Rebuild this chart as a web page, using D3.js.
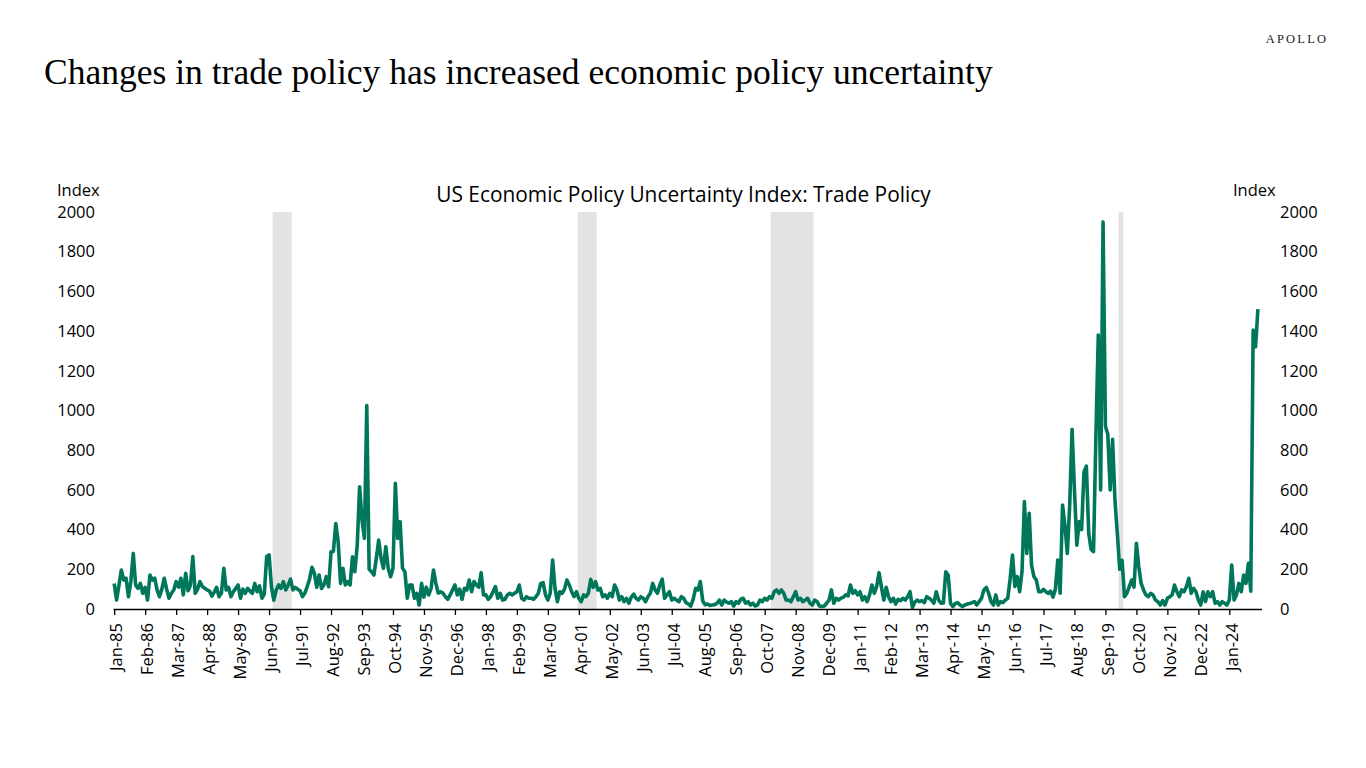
<!DOCTYPE html>
<html><head><meta charset="utf-8">
<script src="https://cdn.jsdelivr.net/npm/d3@7"></script>
<style>
html,body{margin:0;padding:0;background:#fff;}
svg{display:block;}
</style></head><body>
<svg id="chart" width="1366" height="768"></svg>
<script>
// ---------------- DATA ----------------
const startYear = 1985;            // first observation: Jan-1985, monthly
const values = [
  129, 45, 120, 196, 146, 155, 62, 140, 280, 120, 104, 129,      // 1985
  79, 109, 45, 171, 146, 155, 96, 62, 100, 155, 100, 54,          // 1986
  79, 96, 138, 110, 155, 71, 180, 92, 120, 264, 79, 100,          // 1987
  138, 113, 105, 96, 90, 65, 85, 109, 62, 79, 205, 96,            // 1988
  109, 62, 87, 104, 121, 54, 100, 79, 104, 90, 79, 129,           // 1989
  87, 116, 54, 76, 264, 272, 113, 45, 96, 121, 104, 138,          // 1990
  96, 120, 151, 96, 109, 100, 92, 62, 79, 113, 150, 210,          // 1991
  180, 110, 171, 104, 121, 163, 112, 288, 290, 431, 339, 129,     // 1992
  205, 121, 138, 121, 263, 188, 322, 616, 448, 356, 1025, 200,    // 1993
  188, 171, 255, 347, 255, 205, 314, 205, 163, 205, 633, 356,     // 1994
  440, 205, 188, 54, 121, 121, 54, 79, 20, 129, 60, 110,          // 1995
  71, 104, 196, 129, 80, 87, 79, 62, 49, 71, 96, 121,             // 1996
  71, 100, 49, 104, 96, 146, 87, 138, 121, 110, 183, 71,          // 1997
  71, 49, 62, 87, 113, 54, 79, 45, 49, 71, 79, 71,                // 1998
  79, 87, 121, 54, 45, 62, 54, 54, 49, 62, 79, 129,               // 1999
  133, 71, 45, 80, 247, 104, 37, 87, 79, 100, 146, 121,           // 2000
  87, 62, 87, 54, 37, 71, 62, 79, 150, 109, 138, 96,              // 2001
  104, 62, 71, 54, 79, 62, 121, 96, 45, 62, 37, 54,               // 2002
  29, 60, 75, 54, 45, 62, 54, 37, 62, 79, 129, 96,                // 2003
  79, 121, 150, 54, 71, 87, 45, 54, 45, 37, 62, 54,               // 2004
  32, 25, 15, 50, 104, 96, 138, 40, 22, 25, 18, 20,               // 2005
  22, 29, 45, 20, 45, 35, 29, 37, 15, 37, 29, 49,                 // 2006
  54, 29, 37, 20, 29, 15, 20, 45, 37, 54, 45, 62,                 // 2007
  54, 87, 96, 79, 96, 79, 45, 45, 37, 62, 87, 45,                 // 2008
  54, 37, 45, 54, 29, 20, 45, 37, 15, 12, 15, 29,                 // 2009
  45, 96, 29, 54, 45, 55, 59, 71, 66, 121, 79, 92,                // 2010
  71, 87, 45, 62, 37, 71, 121, 79, 113, 183, 110, 45,             // 2011
  109, 62, 37, 54, 25, 49, 42, 54, 45, 62, 87, 8,                 // 2012
  35, 45, 37, 42, 32, 62, 54, 45, 29, 87, 45, 29,                 // 2013
  30, 188, 171, 28, 12, 28, 32, 20, 12, 20, 25, 28,               // 2014
  32, 37, 20, 37, 54, 96, 109, 79, 37, 20, 71, 20,                // 2015
  37, 32, 45, 54, 150, 272, 113, 163, 87, 190, 541, 280,          // 2016
  482, 220, 163, 146, 87, 87, 99, 87, 79, 90, 60, 100,            // 2017
  247, 80, 524, 420, 280, 520, 905, 600, 322, 440, 400, 690,      // 2018
  720, 381, 300, 289, 870, 1380, 600, 1950, 920, 880, 600, 855,   // 2019
  549, 380, 200, 245, 62, 79, 113, 146, 110, 331, 213, 129,       // 2020
  96, 71, 62, 79, 71, 45, 37, 20, 42, 20, 54, 62,                 // 2021
  71, 121, 87, 62, 96, 87, 113, 155, 79, 104, 87, 45,             // 2022
  20, 87, 37, 87, 62, 87, 29, 37, 20, 37, 29, 20,                 // 2023
  45, 222, 45, 71, 129, 87, 171, 129, 230, 90, 1405, 1321,        // 2024
  1511                                                            // 2025
];
const recessionStart = ["1990-08", "2001-04", "2008-01", "2020-03"];
const recessionEnd   = ["1991-03", "2001-11", "2009-06", "2020-04"];
const yTicks = [0, 200, 400, 600, 800, 1000, 1200, 1400, 1600, 1800, 2000];
const xTickStep = 13;   // one label every 13 months
const titleText = "Changes in trade policy has increased economic policy uncertainty";
const chartTitle = "US Economic Policy Uncertainty Index: Trade Policy";
const axisUnit = "Index";

// ---------------- DRAW ----------------
const svg = d3.select("#chart");
const lineColor = "#00775a";
const labelFont = "'Open Sans', 'Noto Sans', sans-serif";

const monthIndex = s => { const [yy, mm] = s.split("-").map(Number); return (yy - startYear) * 12 + (mm - 1); };
const dateOf = i => new Date(startYear, i, 1);
const fmt = d3.timeFormat("%b-%y");

const x = d3.scaleLinear().domain([-0.5, values.length + 0.5]).range([113, 1261.5]);
const y = d3.scaleLinear().domain([0, 2000]).range([609, 212]);

// recession shading
svg.append("g").selectAll("rect")
  .data(recessionStart.map((s, i) => [monthIndex(s), monthIndex(recessionEnd[i])]))
  .join("rect")
  .attr("x", d => x(d[0] - 0.5))
  .attr("width", d => x(d[1] + 0.5) - x(d[0] - 0.5))
  .attr("y", y(2000))
  .attr("height", y(0) - y(2000))
  .attr("fill", "#e3e3e3");

// line
svg.append("path")
  .datum(values)
  .attr("fill", "none")
  .attr("stroke", lineColor)
  .attr("stroke-width", 3.6)
  .attr("stroke-linejoin", "round")
  .attr("d", d3.line().x((d, i) => x(i)).y(d => y(d)));

// x axis
const xTickVals = d3.range(0, values.length, xTickStep);
const xAxis = svg.append("g").attr("transform", `translate(0,${y(0)})`)
  .call(d3.axisBottom(x).tickValues(xTickVals).tickSize(6).tickSizeOuter(0).tickFormat(""));
xAxis.select(".domain").attr("stroke", "#000").attr("stroke-width", 1.3);
xAxis.selectAll(".tick line").attr("stroke", "#000").attr("stroke-width", 1.3);

svg.append("g").selectAll("text")
  .data(xTickVals)
  .join("text")
  .attr("transform", d => `translate(${x(d)},${y(0) + 14}) rotate(-90)`)
  .attr("text-anchor", "end")
  .attr("dy", "0.5em")
  .attr("font-family", labelFont)
  .attr("font-size", 16.5)
  .attr("fill", "#000")
  .text(d => fmt(dateOf(d)));

// y labels left and right
svg.append("g").selectAll("text")
  .data(yTicks).join("text")
  .attr("x", 95).attr("y", d => y(d))
  .attr("dy", "0.35em")
  .attr("text-anchor", "end")
  .attr("font-family", labelFont).attr("font-size", 16.5).attr("fill", "#000")
  .text(d => d);
svg.append("g").selectAll("text")
  .data(yTicks).join("text")
  .attr("x", 1280).attr("y", d => y(d))
  .attr("dy", "0.35em")
  .attr("text-anchor", "start")
  .attr("font-family", labelFont).attr("font-size", 16.5).attr("fill", "#000")
  .text(d => d);

// unit labels
svg.append("text").attr("x", 57).attr("y", 196)
  .attr("font-family", labelFont).attr("font-size", 16.5).attr("fill", "#000").text(axisUnit);
svg.append("text").attr("x", 1233).attr("y", 196)
  .attr("font-family", labelFont).attr("font-size", 16.5).attr("fill", "#000").text(axisUnit);

// chart title (centered)
const sub = svg.append("text").attr("x", 683.5).attr("y", 202)
  .attr("text-anchor", "middle")
  .attr("font-family", labelFont).attr("font-size", 20).attr("fill", "#000")
  .text(chartTitle);
{
  const w = sub.node().getComputedTextLength();
  sub.attr("font-size", 20 * 495 / w);
}

// main title
const ttl = svg.append("text").attr("x", 44).attr("y", 84)
  .attr("font-family", "'Liberation Serif', 'DejaVu Serif', serif")
  .attr("font-size", 33).attr("fill", "#000")
  .text(titleText);
{
  const w = ttl.node().getComputedTextLength();
  ttl.attr("font-size", 33 * 949 / w);
}

// logo
svg.append("text").attr("x", 1297).attr("y", 43)
  .attr("text-anchor", "middle")
  .attr("font-family", "'Liberation Serif', serif")
  .attr("font-size", 12.5)
  .attr("letter-spacing", 2.2)
  .attr("fill", "#222")
  .text("APOLLO");
</script>
</body></html>
